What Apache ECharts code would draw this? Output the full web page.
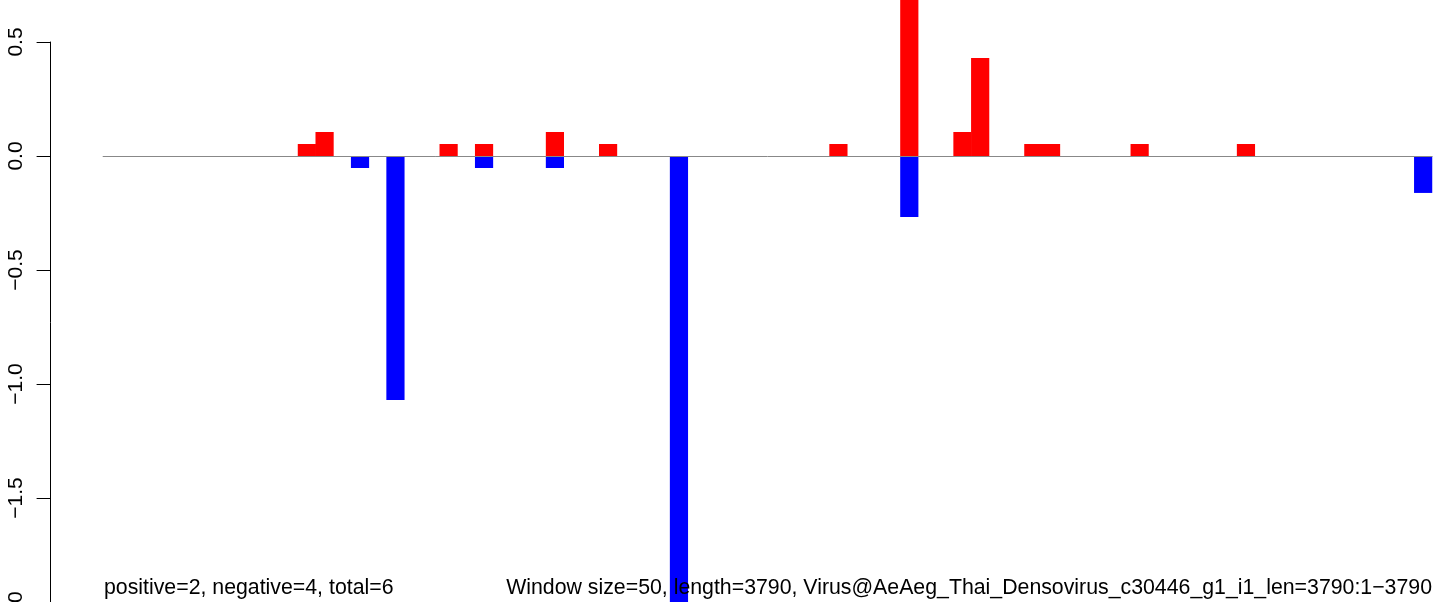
<!DOCTYPE html>
<html>
<head>
<meta charset="utf-8">
<script src="https://cdn.jsdelivr.net/npm/echarts@6/dist/echarts.min.js"></script>
<style>
  html, body { margin: 0; padding: 0; background: #fff; }
  #chart { width: 1441px; height: 602px; }
</style>
</head>
<body>
<div id="chart"></div>
<script>
// Window start positions (window size 50, 75 windows)
const windows = [
  1, 51, 101, 151, 201, 251, 301, 351, 401, 451,
  501, 551, 601, 651, 701, 751, 801, 851, 901, 951,
  1001, 1051, 1101, 1151, 1201, 1251, 1301, 1351, 1401, 1451,
  1501, 1551, 1601, 1651, 1701, 1751, 1801, 1851, 1901, 1951,
  2001, 2051, 2101, 2151, 2201, 2251, 2301, 2351, 2401, 2451,
  2501, 2551, 2601, 2651, 2701, 2751, 2801, 2851, 2901, 2951,
  3001, 3051, 3101, 3151, 3201, 3251, 3301, 3351, 3401, 3451,
  3501, 3551, 3601, 3651, 3701
];
// Positive (red) values per window
const positiveValues = [
  0, 0, 0, 0, 0, 0, 0, 0, 0, 0,
  0, 0.0526, 0.1053, 0, 0, 0, 0, 0, 0, 0.0526,
  0, 0.0526, 0, 0, 0, 0.1053, 0, 0, 0.0526, 0,
  0, 0, 0, 0, 0, 0, 0, 0, 0, 0,
  0, 0.0526, 0, 0, 0, 0.80, 0, 0, 0.1053, 0.43,
  0, 0, 0.0526, 0.0526, 0, 0, 0, 0, 0.0526, 0,
  0, 0, 0, 0, 0.0526, 0, 0, 0, 0, 0,
  0, 0, 0, 0, 0
];
// Negative (blue) values per window
const negativeValues = [
  0, 0, 0, 0, 0, 0, 0, 0, 0, 0,
  0, 0, 0, 0, -0.0526, 0, -1.07, 0, 0, 0,
  0, -0.0526, 0, 0, 0, -0.0526, 0, 0, 0, 0,
  0, 0, -2.2, 0, 0, 0, 0, 0, 0, 0,
  0, 0, 0, 0, 0, -0.268, 0, 0, 0, 0,
  0, 0, 0, 0, 0, 0, 0, 0, 0, 0,
  0, 0, 0, 0, 0, 0, 0, 0, 0, 0,
  0, 0, 0, 0, -0.162
];
const yTicks = { min: -2, max: 0.5, interval: 0.5 };
const leftNote = 'positive=2, negative=4, total=6';
const rightNote = 'Window size=50, length=3790, Virus@AeAeg_Thai_Densovirus_c30446_g1_i1_len=3790:1\u22123790';

const FONT = '"Liberation Sans", Arial, Helvetica, sans-serif';
const chart = echarts.init(document.getElementById('chart'), null, { renderer: 'canvas' });
chart.setOption({
  animation: false,
  backgroundColor: '#ffffff',
  grid: { left: 103.1, right: 9, top: 42, height: 570, containLabel: false, outerBoundsMode: 'none' },
  xAxis: {
    type: 'category',
    data: windows,
    z: 5,
    axisLine: { show: true, onZero: true, lineStyle: { color: '#888888', width: 1 } },
    axisTick: { show: false },
    axisLabel: { show: false },
    splitLine: { show: false }
  },
  yAxis: {
    type: 'value',
    min: yTicks.min,
    max: yTicks.max,
    interval: yTicks.interval,
    offset: 52.5,
    axisLine: { show: true, lineStyle: { color: '#000', width: 1 } },
    axisTick: { show: true, length: 14, lineStyle: { color: '#000', width: 1 } },
    axisLabel: {
      rotate: 90,
      margin: 24,
      fontSize: 21,
      fontFamily: FONT,
      color: '#000',
      formatter: v => v.toFixed(1).replace('-', '\u2212')
    },
    splitLine: { show: false }
  },
  series: [
    {
      type: 'bar',
      data: positiveValues,
      barWidth: 18.2,
      barGap: '-100%',
      clip: false,
      itemStyle: { color: '#FF0000' }
    },
    {
      type: 'bar',
      data: negativeValues,
      barWidth: 18.2,
      barGap: '-100%',
      clip: false,
      itemStyle: { color: '#0000FF' }
    }
  ],
  graphic: [
    {
      type: 'text', x: 104, y: 588, z: 100,
      style: { text: leftNote, fontSize: 21.3, fontFamily: FONT, fill: '#000', align: 'left', verticalAlign: 'middle' }
    },
    {
      type: 'text', x: 1432, y: 588, z: 100,
      style: { text: rightNote, fontSize: 21.3, fontFamily: FONT, fill: '#000', align: 'right', verticalAlign: 'middle' }
    }
  ]
});
</script>
</body>
</html>
